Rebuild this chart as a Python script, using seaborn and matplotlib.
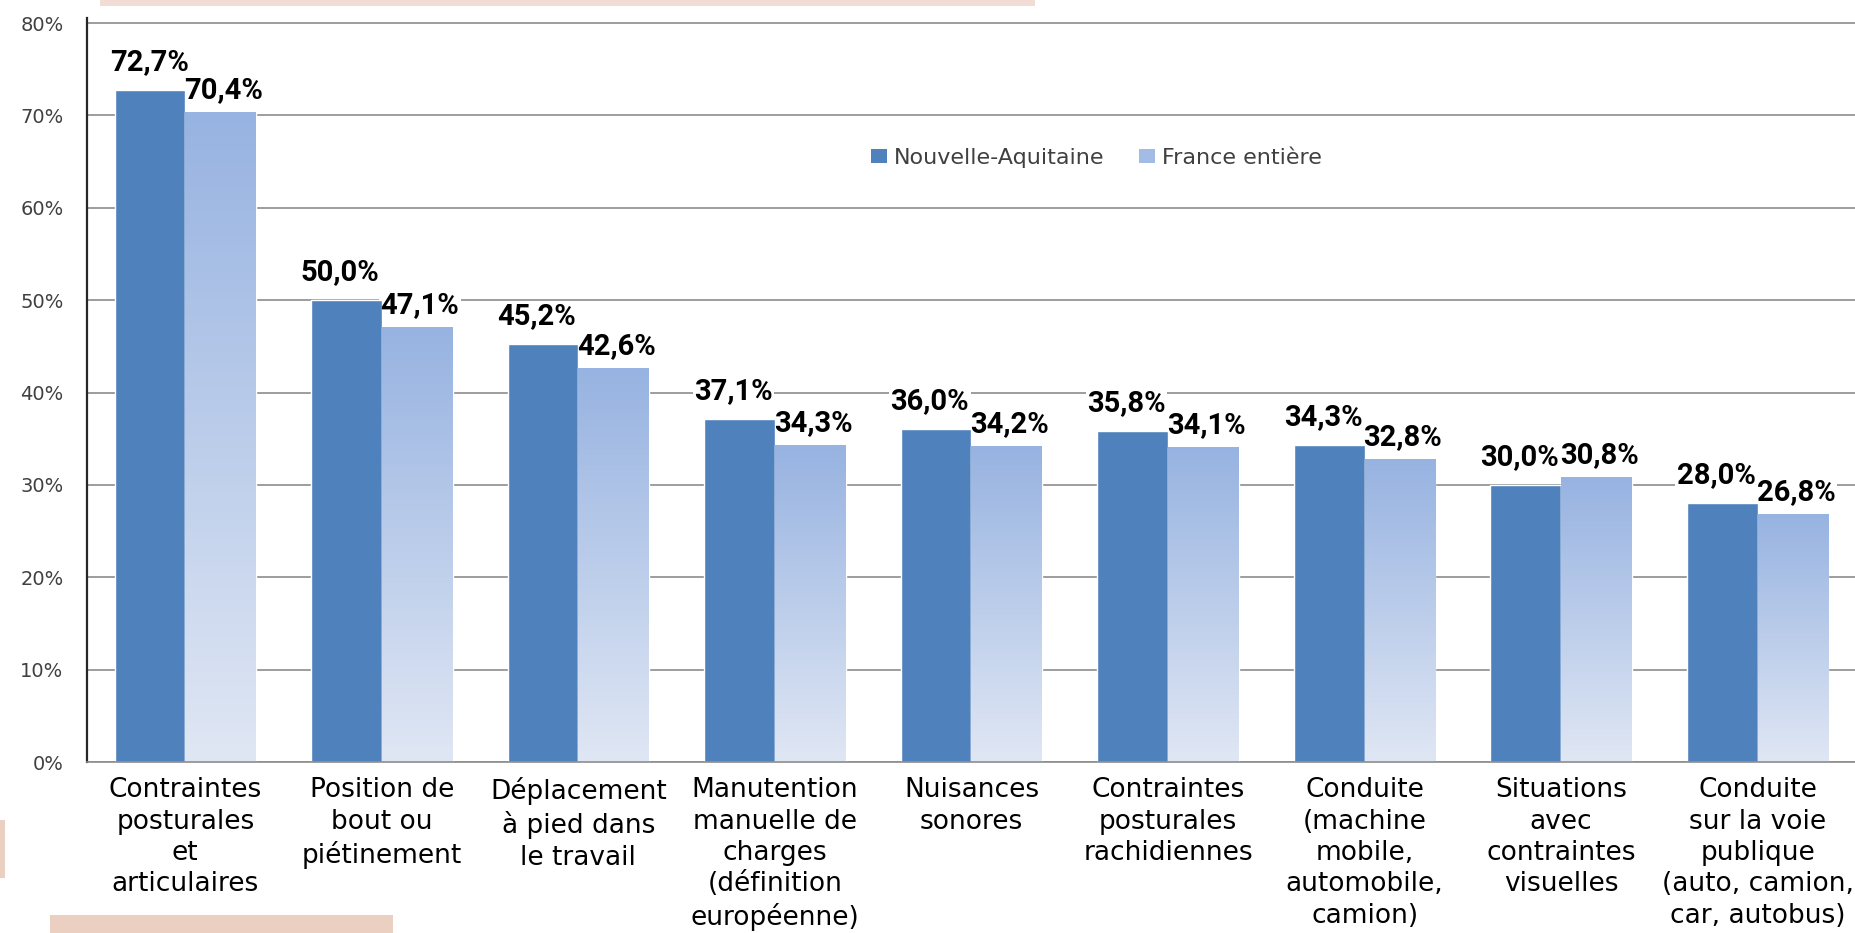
import numpy as np
import pandas as pd
import matplotlib
matplotlib.use("Agg")
import matplotlib.pyplot as plt
import seaborn as sns
from matplotlib.colors import LinearSegmentedColormap
from matplotlib.patches import Patch, Rectangle

# donnees
categories = [
    "Contraintes\nposturales\net\narticulaires",
    "Position de\nbout ou\npiétinement",
    "Déplacement\nà pied dans\nle travail",
    "Manutention\nmanuelle de\ncharges\n(définition\neuropéenne)",
    "Nuisances\nsonores",
    "Contraintes\nposturales\nrachidiennes",
    "Conduite\n(machine\nmobile,\nautomobile,\ncamion)",
    "Situations\navec\ncontraintes\nvisuelles",
    "Conduite\nsur la voie\npublique\n(auto, camion,\ncar, autobus)",
]
series = ["Nouvelle-Aquitaine", "France entière"]
nouvelle_aquitaine = [72.7, 50.0, 45.2, 37.1, 36.0, 35.8, 34.3, 30.0, 28.0]
france_entiere = [70.4, 47.1, 42.6, 34.3, 34.2, 34.1, 32.8, 30.8, 26.8]
yticks = [0, 10, 20, 30, 40, 50, 60, 70, 80]

dark = "#4F81BD"
light = "#A3BCE5"
grad_top = "#97B3E1"
grad_bottom = "#E0E7F4"

df = pd.DataFrame({
    "cat": categories * 2,
    "serie": [series[0]] * len(categories) + [series[1]] * len(categories),
    "val": nouvelle_aquitaine + france_entiere,
})

sns.set_theme(style="white")
plt.rcParams["font.family"] = ["DejaVu Sans"]

W, H = 1856, 933
fig = plt.figure(figsize=(W / 100, H / 100), dpi=100)
ymax = 80.5
ax_h = 739 * ymax / 80
ax = fig.add_axes([87 / W, 171 / H, 1769 / W, ax_h / H])

sns.barplot(data=df, x="cat", y="val", hue="serie", palette=[dark, light],
            width=0.72, gap=0, saturation=1, ax=ax, legend=False, zorder=2)

ax.set_xlim(-0.5, 8.5)
ax.set_ylim(0, ymax)

# degrade sur les barres "France entiere"
cmap = LinearSegmentedColormap.from_list("grad", [grad_bottom, grad_top])
grad = np.linspace(0, 1, 256).reshape(-1, 1)
bars = list(ax.patches)
n = len(categories)
for i, p in enumerate(bars):
    if i >= n:
        x, w, h = p.get_x(), p.get_width(), p.get_height()
        im = ax.imshow(grad, extent=[x, x + w, 0, h], origin="lower", aspect="auto",
                       cmap=cmap, zorder=2.5)
        im.set_clip_path(p)
ax.set_xlim(-0.5, 8.5)
ax.set_ylim(0, ymax)

# etiquettes de valeurs (fond blanc sous les barres, texte au-dessus)
lab_font = dict(fontsize=21, fontweight="bold", family=["Roboto", "DejaVu Sans"])
for i, p in enumerate(bars):
    h = p.get_height()
    xc = p.get_x() + p.get_width() / 2
    if i < n:
        off = (-4.5 if i > 0 else 0, 14.5)
    else:
        off = (2, 10)
    txt = f"{h:.1f}%".replace(".", ",")
    ax.annotate(txt, xy=(xc, h), xytext=off, textcoords="offset points",
                ha="center", va="baseline", color="white", zorder=1.5,
                bbox=dict(boxstyle="square,pad=0.05", fc="white", ec="none"), **lab_font)
    ax.annotate(txt, xy=(xc, h), xytext=off, textcoords="offset points",
                ha="center", va="baseline", color="black", zorder=5, **lab_font)

ax.set_yticks(yticks)
ax.set_yticklabels([f"{t}%" for t in yticks], fontsize=14, color="#404040")
ax.set_xticks(range(n))
ax.set_xticklabels(categories, fontsize=19, color="black", linespacing=1.27)
ax.tick_params(axis="x", length=0, pad=11)
ax.tick_params(axis="y", length=0, pad=17)
ax.set_xlabel("")
ax.set_ylabel("")

ax.yaxis.grid(True, color="#8C8C8C", lw=1.2)
ax.set_axisbelow(True)
for s in ["top", "right"]:
    ax.spines[s].set_visible(False)
ax.spines["left"].set_color("#262626")
ax.spines["left"].set_linewidth(1.6)
ax.spines["bottom"].set_color("#8C8C8C")
ax.spines["bottom"].set_linewidth(1.2)

handles = [Patch(fc=dark, ec="none"), Patch(fc=light, ec="none")]
ax.legend(handles, series, loc="center left", bbox_to_anchor=(0.437, 0.812),
          ncol=2, frameon=False, fontsize=16, handlelength=0.7, handleheight=0.6,
          handletextpad=0.3, columnspacing=1.6, borderpad=0, labelcolor="#404040")

# bandes decoratives du fond
fig.patches.append(Rectangle((100 / W, 1 - 6 / H), 935 / W, 6 / H,
                             transform=fig.transFigure, fc="#F1DDD3", ec="none"))
fig.patches.append(Rectangle((50 / W, 0), 343 / W, 18 / H,
                             transform=fig.transFigure, fc="#EBCFC0", ec="none"))
fig.patches.append(Rectangle((0, 55 / H), 5 / W, 58 / H,
                             transform=fig.transFigure, fc="#EBCFC0", ec="none"))

fig.savefig("out.png", dpi=100)
